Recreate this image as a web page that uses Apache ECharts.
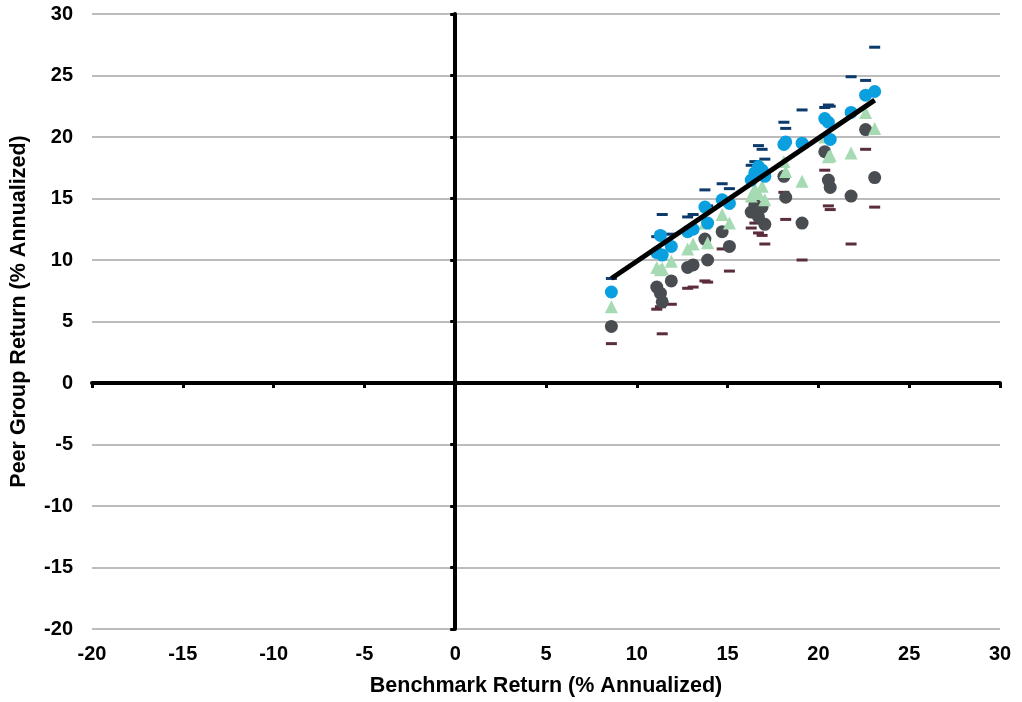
<!DOCTYPE html>
<html lang="en">
  <head>
    <meta charset="UTF-8" />
    <title>Peer Group vs Benchmark Return</title>
    <script src="https://cdn.jsdelivr.net/npm/echarts@6/dist/echarts.min.js"></script>
    <style>
      html, body { margin: 0; padding: 0; background: #fff; }
    </style>
  </head>
  <body>
    <div id="main" style="width: 1022px; height: 702px"></div>
    <script>
      // benchmark return for each fund group (x)
      var bench = [8.6, 11.1, 11.3, 11.4, 11.9, 12.8, 13.1, 13.75, 13.9, 14.7, 15.1, 16.3, 16.5, 16.7, 16.9, 17.05, 18.1, 18.2, 19.1, 20.35, 20.55, 20.65, 21.8, 22.6, 23.1];
      // peer group returns (y), from top marker down to bottom marker
      var topDash = [8.5, 11.9, 12.2, 13.7, 12.1, 13.5, 13.7, 15.7, 14.4, 16.2, 15.8, 17.7, 18.0, 19.3, 19.0, 18.2, 21.2, 20.7, 22.2, 22.4, 22.6, 22.5, 24.9, 24.6, 27.3];
      var blueDot = [7.4, 10.6, 12.0, 10.4, 11.1, 12.3, 12.5, 14.3, 13.0, 14.9, 14.6, 16.5, 17.1, 17.6, 17.3, 16.8, 19.4, 19.6, 19.5, 21.5, 21.2, 19.8, 22.0, 23.4, 23.7];
      var greenTri = [6.2, 9.4, 9.2, 9.3, 9.9, 10.9, 11.3, 13.0, 11.4, 13.7, 13.0, 15.2, 15.8, 15.4, 16.0, 14.9, 18.0, 17.2, 16.4, 20.0, 18.4, 18.5, 18.7, 22.0, 20.7];
      var grayDot = [4.6, 7.8, 7.3, 6.6, 8.3, 9.4, 9.6, 11.7, 10.0, 12.3, 11.1, 13.9, 14.5, 13.5, 14.3, 12.9, 16.8, 15.1, 13.0, 18.8, 16.5, 15.9, 15.2, 20.6, 16.7];
      var botDash = [3.2, 6.0, 6.2, 4.0, 6.4, 7.7, 7.8, 8.3, 8.2, 10.9, 9.1, 12.6, 13.0, 12.2, 12.0, 11.3, 15.5, 13.3, 10.0, 17.3, 14.4, 14.1, 11.3, 19.0, 14.3];
      // fitted line end points
      var fitX = [8.6, 23.1];
      var fitY = [8.5, 23.0];

      function pairs(xs, ys) {
        return xs.map(function (x, i) {
          return [x, ys[i]];
        });
      }

      var labelFont = {
        color: '#000',
        fontWeight: 'bold',
        fontSize: 20,
        fontFamily: 'Arial, "Liberation Sans", sans-serif',
      };
      var nameFont = Object.assign({}, labelFont, { fontSize: 21.5 });

      var mCharts = echarts.init(document.getElementById('main'));
      var option = {
        animation: false,
        backgroundColor: '#fff',
        grid: { left: 91, right: 22, top: 14, bottom: 71 },
        xAxis: [
          {
            // labels along the bottom
            type: 'value',
            position: 'bottom',
            min: -20,
            max: 30,
            interval: 5,
            axisLine: { show: false, onZero: false },
            axisTick: { show: false },
            splitLine: { show: false },
            axisLabel: Object.assign({ margin: 15 }, labelFont),
            name: 'Benchmark Return (% Annualized)',
            nameLocation: 'middle',
            nameGap: 46,
            nameTextStyle: nameFont,
          },
          {
            // thick zero line
            type: 'value',
            position: 'bottom',
            min: -20,
            max: 30,
            interval: 5,
            axisLine: { show: true, onZero: true, onZeroAxisIndex: 0, lineStyle: { color: '#000', width: 4 } },
            axisTick: { show: true, length: 5, lineStyle: { color: '#000', width: 3 } },
            axisLabel: { show: false },
            splitLine: { show: false },
          },
        ],
        yAxis: [
          {
            type: 'value',
            position: 'left',
            min: -20,
            max: 30,
            interval: 5,
            axisLine: { show: false, onZero: false },
            axisTick: { show: false },
            splitLine: { show: true, lineStyle: { color: '#a6a6a6', width: 1.5 } },
            axisLabel: Object.assign({ margin: 19 }, labelFont),
            name: 'Peer Group Return (% Annualized)',
            nameLocation: 'middle',
            nameGap: 62,
            nameTextStyle: Object.assign({ padding: [0, 0, 0, 20] }, nameFont),
          },
          {
            type: 'value',
            position: 'left',
            min: -20,
            max: 30,
            interval: 5,
            axisLine: { show: true, onZero: true, onZeroAxisIndex: 0, lineStyle: { color: '#000', width: 4 } },
            axisTick: { show: true, length: 5, lineStyle: { color: '#000', width: 3 } },
            axisLabel: { show: false },
            splitLine: { show: false },
          },
        ],
        series: [
          {
            type: 'scatter',
            symbol: 'rect',
            symbolSize: [11, 3],
            itemStyle: { color: '#0b3a6b', opacity: 1 },
            data: pairs(bench, topDash),
          },
          {
            type: 'scatter',
            symbol: 'rect',
            symbolSize: [11, 3],
            itemStyle: { color: '#5b2c3d', opacity: 1 },
            data: pairs(bench, botDash),
          },
          {
            type: 'scatter',
            symbol: 'circle',
            symbolSize: 13,
            itemStyle: { color: '#494c51', opacity: 1 },
            data: pairs(bench, grayDot),
          },
          {
            type: 'scatter',
            symbol: 'triangle',
            symbolSize: 13,
            itemStyle: { color: '#a5dab3', opacity: 1 },
            data: pairs(bench, greenTri),
          },
          {
            type: 'scatter',
            symbol: 'circle',
            symbolSize: 13,
            itemStyle: { color: '#0a9fdf', opacity: 1 },
            data: pairs(bench, blueDot),
          },
          {
            type: 'line',
            symbol: 'none',
            z: 10,
            lineStyle: { color: '#000', width: 5 },
            data: pairs(fitX, fitY),
          },
        ],
      };

      mCharts.setOption(option);
    </script>
  </body>
</html>
